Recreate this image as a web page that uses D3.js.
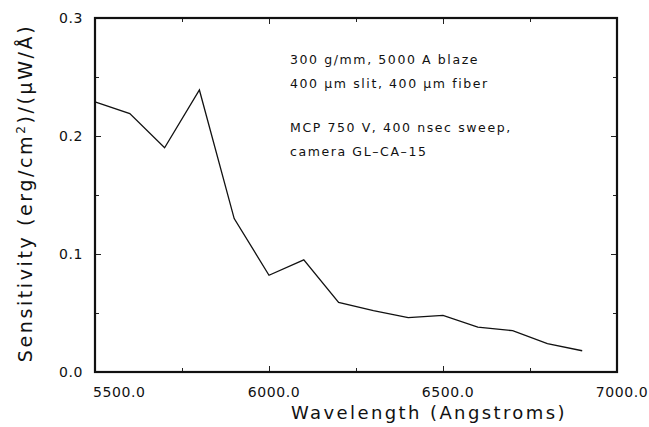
<!DOCTYPE html>
<html>
<head>
<meta charset="utf-8">
<script src="https://cdn.jsdelivr.net/npm/d3@7"></script>
<style>
  body { margin: 0; background: #fff; }
  text { font-family: "DejaVu Sans", sans-serif; fill: #111; }
</style>
</head>
<body>
<script>
// data
var wavelengths = [5500, 5600, 5700, 5800, 5900, 6000, 6100, 6200, 6300, 6400, 6500, 6600, 6700, 6800, 6900];
var sensitivity = [0.229, 0.219, 0.190, 0.239, 0.130, 0.082, 0.095, 0.059, 0.052, 0.046, 0.048, 0.038, 0.035, 0.024, 0.018];
var xTicks = [5500, 6000, 6500, 7000];
var xMinor = [5750, 6250, 6750];
var yTicks = [0.0, 0.1, 0.2, 0.3];
var yMinor = [0.05, 0.15, 0.25];
var notes = ["300 g/mm, 5000 A blaze", "400 \u03bcm slit, 400 \u03bcm fiber", "", "MCP 750 V, 400 nsec sweep,", "camera GL\u2013CA\u201315"];

var svgWidth = 649;
var svgHeight = 427;
var margin = { top: 18, right: 32, bottom: 55, left: 95 };
var width = svgWidth - margin.left - margin.right;
var height = svgHeight - margin.top - margin.bottom;

var svg = d3.select("body").append("svg")
  .attr("width", svgWidth)
  .attr("height", svgHeight);

var chartGroup = svg.append("g")
  .attr("transform", `translate(${margin.left}, ${margin.top})`);

var x = d3.scaleLinear().domain([5500, 7000]).range([0, width]);
var y = d3.scaleLinear().domain([0, 0.3]).range([height, 0]);

// inward ticks on all four sides
function tickSide(axis, ticks, size) {
  return axis.tickValues(ticks).tickSize(-size).tickFormat("");
}
[[xTicks, 6], [xMinor, 4]].forEach(function(t) {
  chartGroup.append("g").attr("transform", `translate(0, ${height})`)
    .call(tickSide(d3.axisBottom(x), t[0], t[1]));
  chartGroup.append("g")
    .call(tickSide(d3.axisTop(x), t[0], t[1]));
});
[[yTicks, 6], [yMinor, 4]].forEach(function(t) {
  chartGroup.append("g")
    .call(tickSide(d3.axisLeft(y), t[0], t[1]));
  chartGroup.append("g").attr("transform", `translate(${width}, 0)`)
    .call(tickSide(d3.axisRight(y), t[0], t[1]));
});
chartGroup.selectAll(".domain").remove();
chartGroup.selectAll(".tick line").attr("stroke", "#222").attr("stroke-width", 1);

// frame
chartGroup.append("rect")
  .attr("width", width)
  .attr("height", height)
  .attr("fill", "none")
  .attr("stroke", "#111")
  .attr("stroke-width", 2.2);

// tick labels
chartGroup.selectAll(".xlab")
  .data(xTicks)
  .enter()
  .append("text")
  .attr("x", (d, i) => x(d) + (i === 0 ? -2 : 5))
  .attr("y", height + 25)
  .attr("text-anchor", (d, i) => i === 0 ? "start" : "middle")
  .attr("font-size", 14)
  .attr("letter-spacing", 0.6)
  .text(d => d.toFixed(1));

chartGroup.selectAll(".ylab")
  .data(yTicks)
  .enter()
  .append("text")
  .attr("x", -12)
  .attr("y", d => y(d))
  .attr("dy", "0.36em")
  .attr("text-anchor", "end")
  .attr("font-size", 14)
  .attr("letter-spacing", 0.6)
  .text(d => d.toFixed(1));

// the curve
var line = d3.line()
  .x((d, i) => x(wavelengths[i]))
  .y(d => y(d));
chartGroup.append("path")
  .datum(sensitivity)
  .attr("d", line)
  .attr("fill", "none")
  .attr("stroke", "#111")
  .attr("stroke-width", 1.3)
  .attr("stroke-linejoin", "miter");

// annotation block
var noteY = [64, 88, 0, 132, 156];
notes.forEach(function(n, i) {
  if (!n) return;
  svg.append("text")
    .attr("x", 290)
    .attr("y", noteY[i])
    .attr("font-size", 12.5)
    .attr("letter-spacing", 1.6)
    .text(n);
});

// axis titles
svg.append("text")
  .attr("x", 429)
  .attr("y", 419)
  .attr("text-anchor", "middle")
  .attr("font-size", 18)
  .attr("letter-spacing", 2.4)
  .text("Wavelength (Angstroms)");

var yTitle = svg.append("text")
  .attr("transform", "translate(32, 193) rotate(-90)")
  .attr("text-anchor", "middle")
  .attr("font-size", 19)
  .attr("letter-spacing", 2.6);
yTitle.append("tspan").text("Sensitivity (erg/cm");
yTitle.append("tspan").attr("dy", -7).attr("font-size", 12).text("2");
yTitle.append("tspan").attr("dy", 7).text(")/(\u03bcW/\u00c5)");
</script>
</body>
</html>
